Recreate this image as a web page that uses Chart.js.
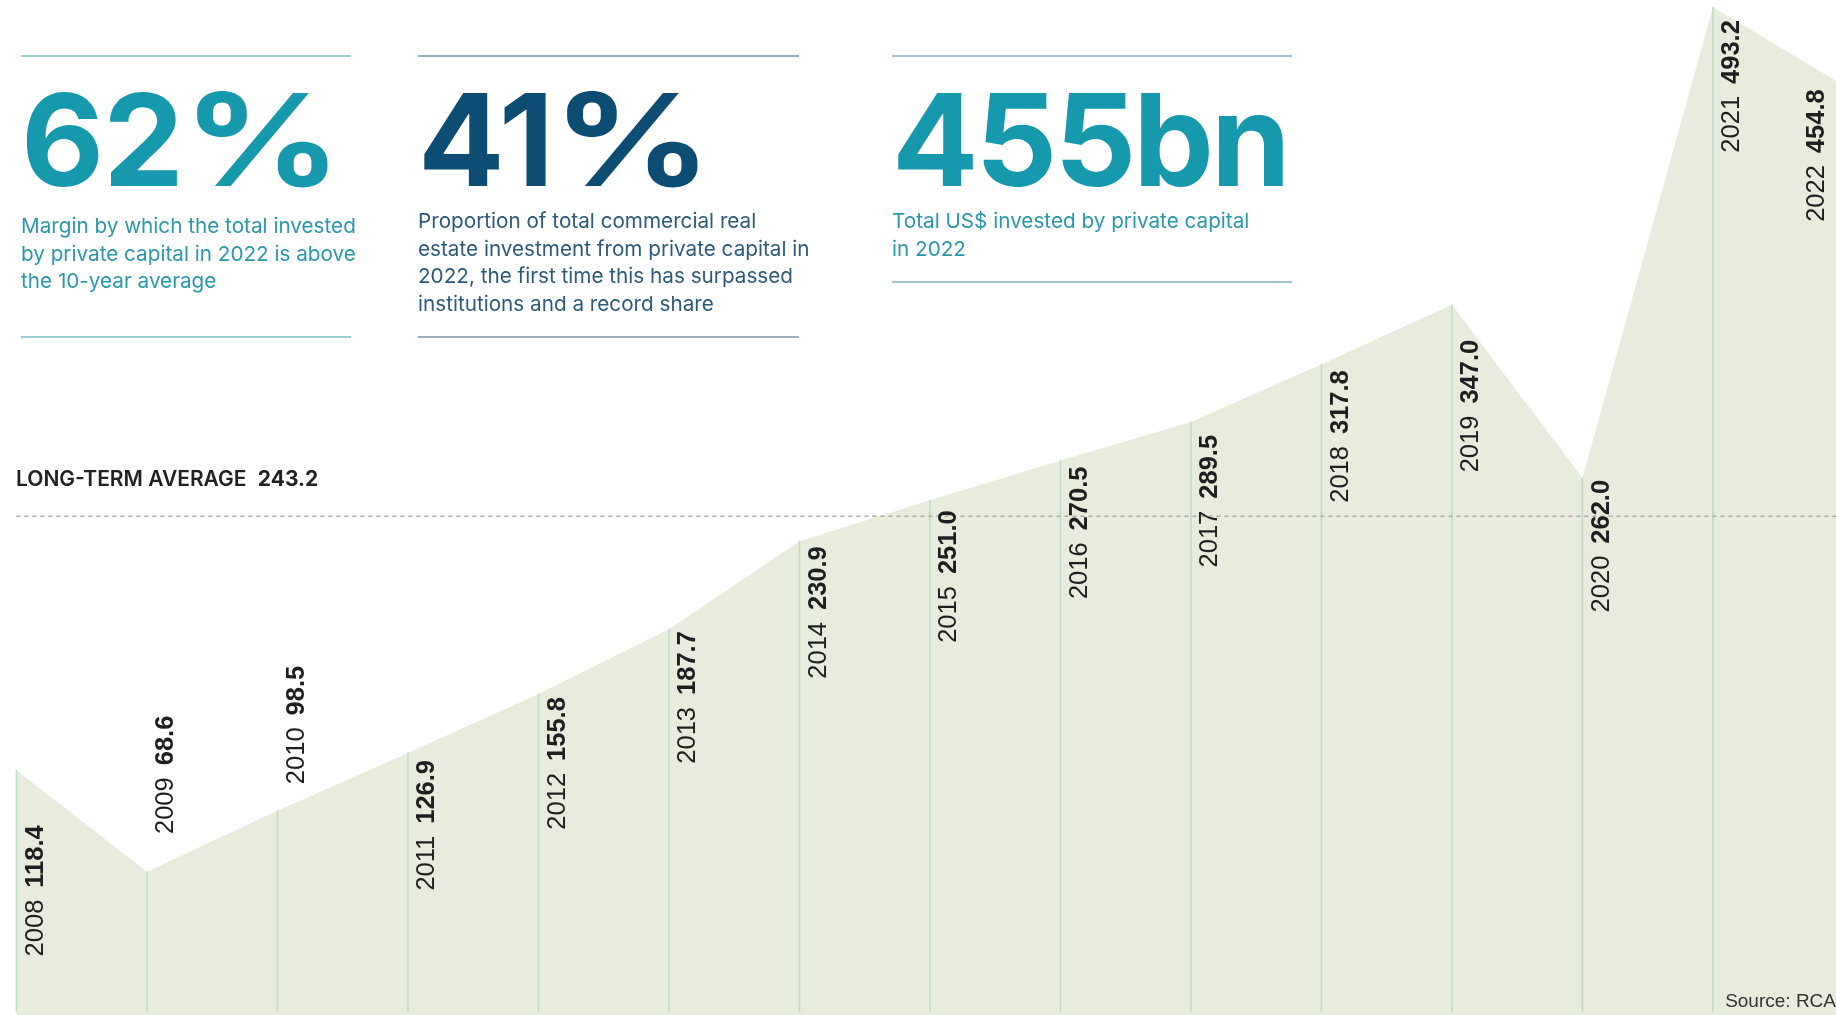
<!DOCTYPE html>
<html lang="en">
<head>
<meta charset="utf-8">
<title>Private capital investment</title>
<script src="https://cdn.jsdelivr.net/npm/chart.js"></script>
<style>
  html, body { margin: 0; padding: 0; background: #fff; }
  body { width: 1836px; height: 1015px; position: relative; overflow: hidden; font-family: Inter, "Liberation Sans", sans-serif; }
  #chart { position: absolute; left: 0; top: 0; }

  .stat { position: absolute; top: 55px; box-sizing: border-box; border-top: 2px solid; border-bottom: 2px solid; }
  .stat .big { position: absolute; left: 0; top: 19px; font-size: 128px; line-height: 128px; font-weight: 700; letter-spacing: -3px; white-space: nowrap; }
  .stat .big.pct { letter-spacing: -1px; }
  .stat .big .sign { display: inline-block; transform: scaleX(1.22); transform-origin: left center; }
  .stat .cap { position: absolute; left: 0; font-size: 20.7px; line-height: 27.5px; white-space: nowrap; }

  #s1 { left: 21px; width: 330px; height: 283px; border-color: #9fcdd5; color: #1699ad; }
  #s1 .cap { top: 155px; color: #2a98ab; }
  #s2 { left: 418px; width: 381px; height: 283px; border-color: #9aafbf; color: #0d4c73; }
  #s2 .cap { top: 150px; color: #2c5b7a; }
  #s3 { left: 892px; width: 400px; height: 228px; border-color: #a3c4cf; color: #1699ad; }
  #s3 .cap { top: 150px; color: #2a98ab; }

  #avg { position: absolute; left: 16px; top: 466px; font-size: 21px; font-weight: 600; color: #222; white-space: nowrap; }
  #avg b { font-weight: 700; margin-left: 6px; }
  #source { position: absolute; right: 0; top: 990px; font-size: 19px; color: #333; font-family: "Liberation Sans", sans-serif; }
</style>
</head>
<body>

<canvas id="chart" width="1836" height="1015"></canvas>

<div class="stat" id="s1">
  <div class="big pct">62<span class="sign">%</span></div>
  <div class="cap">Margin by which the total invested<br>by private capital in 2022 is above<br>the 10-year average</div>
</div>
<div class="stat" id="s2">
  <div class="big pct">41<span class="sign">%</span></div>
  <div class="cap">Proportion of total commercial real<br>estate investment from private capital in<br>2022, the first time this has surpassed<br>institutions and a record share</div>
</div>
<div class="stat" id="s3">
  <div class="big">455bn</div>
  <div class="cap">Total US$ invested by private capital<br>in 2022</div>
</div>

<div id="avg">LONG-TERM AVERAGE <b>243.2</b></div>
<div id="source">Source: RCA</div>

<script>
  // private capital invested, US$bn
  const years = [2008, 2009, 2010, 2011, 2012, 2013, 2014, 2015, 2016, 2017, 2018, 2019, 2020, 2021, 2022];
  const invested = [118.4, 68.6, 98.5, 126.9, 155.8, 187.7, 230.9, 251.0, 270.5, 289.5, 317.8, 347.0, 262.0, 493.2, 454.8];
  const longTermAverage = 243.2;

  // where each year label sits: top of the text relative to its point (px), and sideways shift
  const labelTop = [55, -156, -145, 7, 3, 2, 5, 10, 6, 13, 6, 35, 2, 13, 4];
  const labelShift = years.map((y, i) => i === years.length - 1 ? -29 : 17);

  const points = years.map((y, i) => ({ x: y, y: invested[i] }));
  const avgLine = [{ x: years[0], y: longTermAverage }, { x: years[years.length - 1] + 1, y: longTermAverage }];

  const yearLabels = {
    id: 'yearLabels',
    afterDatasetsDraw(chart) {
      const ctx = chart.ctx;
      const xs = chart.scales.x, ys = chart.scales.y;
      const size = 25.5, gap = 12;
      const regular = size + 'px "Liberation Sans", Arial, sans-serif';
      const bold = 'bold ' + regular;
      ctx.save();
      ctx.fillStyle = '#1f1f1f';
      ctx.textBaseline = 'alphabetic';
      ctx.textAlign = 'left';
      years.forEach((yr, i) => {
        const yearTxt = String(yr);
        const valTxt = invested[i].toFixed(1);
        ctx.font = regular;
        const w1 = ctx.measureText(yearTxt).width;
        ctx.font = bold;
        const w2 = ctx.measureText(valTxt).width;
        const total = w1 + gap + w2;
        const cx = xs.getPixelForValue(yr) + labelShift[i];
        const top = ys.getPixelForValue(invested[i]) + labelTop[i];
        ctx.save();
        ctx.translate(cx, top + total);
        ctx.rotate(-Math.PI / 2);
        ctx.font = regular;
        ctx.fillText(yearTxt, 0, size * 0.36);
        ctx.font = bold;
        ctx.fillText(valTxt, w1 + gap, size * 0.36);
        ctx.restore();
      });
      ctx.restore();
    }
  };

  new Chart(document.getElementById('chart'), {
    type: 'line',
    data: {
      datasets: [
        {
          type: 'line',
          data: points,
          fill: 'start',
          backgroundColor: '#e8ecdc',
          borderWidth: 0,
          pointRadius: 0,
          tension: 0,
          order: 2
        },
        {
          // thin drop line under every year
          type: 'bar',
          data: points,
          backgroundColor: '#c2dbc8',
          barThickness: 1,
          order: 1
        },
        {
          type: 'line',
          data: avgLine,
          borderColor: '#acacac',
          borderWidth: 1.5,
          borderDash: [4, 4],
          pointRadius: 0,
          fill: false,
          order: 0
        }
      ]
    },
    options: {
      responsive: false,
      animation: false,
      events: [],
      layout: { padding: 0 },
      plugins: {
        legend: { display: false },
        tooltip: { enabled: false }
      },
      scales: {
        x: { type: 'linear', display: false, offset: false, min: 2007.874, max: 2021.943 },
        y: { display: false, min: -1.8, max: 496.7 }
      }
    },
    plugins: [yearLabels]
  });
</script>
</body>
</html>
